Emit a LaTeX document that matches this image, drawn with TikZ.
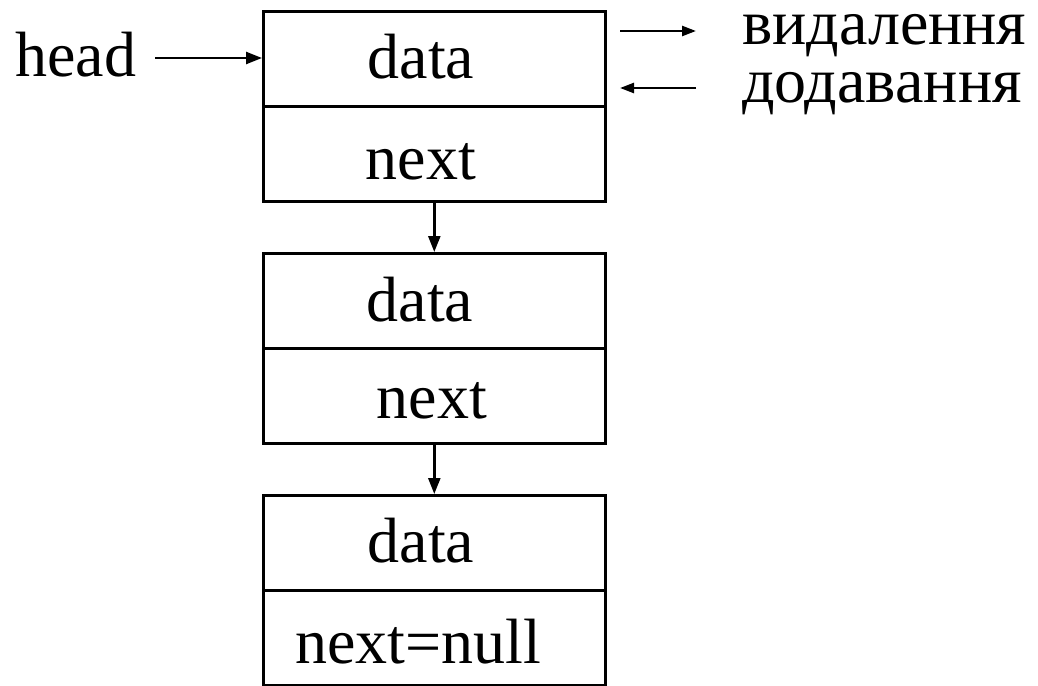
\documentclass[tikz,border=0pt]{standalone}
\usepackage{fontspec}
\setmainfont{Liberation Serif}
\usetikzlibrary{arrows.meta}
\begin{document}
\begin{tikzpicture}[x=1pt,y=-1pt,
  every node/.style={font=\fontsize{64}{70}\selectfont},
  cell/.style={draw,line width=2.6pt,minimum width=342pt,minimum height=95pt,inner sep=0pt,anchor=north west},
  txt/.style={inner sep=0pt,anchor=base},
  lbl/.style={inner sep=0pt,anchor=base west},
  link/.style={line width=2.4pt,-{Triangle[length=16pt,width=12pt]}},
  side/.style={line width=2.4pt,-{Triangle[length=14pt,width=10pt]}}]
\useasboundingbox (0,0) rectangle (1038,685);
% first element
\node[cell] (d1) at (262,10) {};
\node[cell] (n1) at (262,105) {};
\node[txt] (d1t) at (421,78) {data};
\node[txt] (n1t) at (421,179) {next};
% second element
\node[cell] (d2) at (262,252) {};
\node[cell] (n2) at (262,347) {};
\node[txt] (d2t) at (420,321) {data};
\node[txt] (n2t) at (432,418) {next};
% last element
\node[cell] (d3) at (262,494) {};
\node[cell] (n3) at (262,589) {};
\node[txt] (d3t) at (421,562) {data};
\node[lbl] (n3t) at (295,663) {next=null};
% links between elements
\draw[link] (n1.south) -- (d2.north);
\draw[link] (n2.south) -- (d3.north);
% head pointer
\node[lbl] (head) at (15,77) {head};
\coordinate (hs) at (155,58);
\draw[link] (hs) -- (d1.west |- hs);
% removal / insertion (lowercase Cyrillic, so a short text height)
\node[lbl,text height=32pt] (del) at (742,45) {видалення};
\node[lbl,text height=32pt] (add) at (742,102) {додавання};
\coordinate (r1) at (620,31);
\coordinate (r2) at (696,31);
\coordinate (l1) at (696,88);
\coordinate (l2) at (620,88);
\draw[side] (r1) -- (r2);
\draw[side] (l1) -- (l2);
\end{tikzpicture}
\end{document}
